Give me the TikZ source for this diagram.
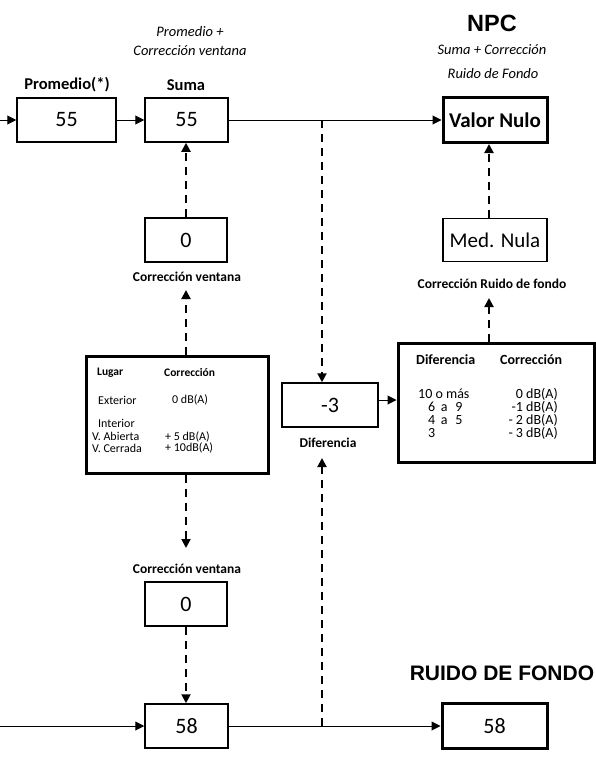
\documentclass[tikz,border=0pt]{standalone}
\usepackage{fontspec}
\setmainfont{Carlito}
\newfontfamily\arialfont{Liberation Sans}
\usetikzlibrary{arrows.meta}
\begin{document}
\begin{tikzpicture}[x=1pt,y=-1pt]
\tikzset{
 bx/.style={draw, line width=1.5pt, inner sep=0pt, font=\fontsize{22}{24}\selectfont},
 tbx/.style={bx, line width=3pt},
 lbl/.style={inner sep=0pt, font=\bfseries\fontsize{16.5}{18}\selectfont},
 slbl/.style={inner sep=0pt, font=\bfseries\fontsize{13.5}{15}\selectfont},
 itl/.style={inner sep=0pt, font=\itshape\fontsize{14.5}{16}\selectfont},
 bigl/.style={inner sep=0pt, font=\arialfont\bfseries\fontsize{23.5}{25}\selectfont},
 bigm/.style={inner sep=0pt, font=\arialfont\bfseries\fontsize{21}{23}\selectfont},
 cell/.style={inner sep=0pt, anchor=west, align=left, font=\fontsize{12}{11.5}\selectfont},
 cellh/.style={inner sep=0pt, anchor=west, font=\bfseries\fontsize{11.5}{12}\selectfont},
 dcell/.style={inner sep=0pt, font=\fontsize{14}{13.2}\selectfont},
 dcellh/.style={inner sep=0pt, anchor=west, font=\bfseries\fontsize{14}{14}\selectfont},
 arr/.style={line width=1pt, -{Triangle[length=9pt,width=9pt]}},
 darr/.style={line width=2pt, dash pattern=on 8pt off 6pt, -{Triangle[length=9pt,width=9pt]}},
}
\useasboundingbox (0,0) rectangle (596,771);

% top row
\node[itl] (t1) at (190,32) {Promedio +};
\node[itl] (t2) at (190,51) {Corrección ventana};
\node[lbl] (lprom) at (67,85) {Promedio(*)};
\node[lbl] (lsuma) at (186,85) {Suma};
\node[bigl] (npc) at (492,23) {NPC};
\node[itl] (t3) at (492,50) {Suma + Corrección};
\node[itl] (t4) at (493,74) {Ruido de Fondo};
\node[bx, minimum width=99pt, minimum height=44pt] (prom) at (66.5,120) {55};
\node[bx, minimum width=83pt, minimum height=44pt] (suma) at (186.5,120) {55};
\node[tbx, minimum width=104pt, minimum height=45pt, font=\bfseries\fontsize{21}{23}\selectfont] (valor) at (495,120) {Valor Nulo};

% middle
\node[bx, minimum width=82pt, minimum height=44pt] (cv1) at (186,240) {0};
\node[slbl] (lcv1) at (187,277) {Corrección ventana};
\node[bx, minimum width=104pt, minimum height=43pt, font=\fontsize{21}{23}\selectfont] (med) at (495,240) {Med. Nula};
\node[slbl] (lcrf) at (492,284) {Corrección Ruido de fondo};

\node[tbx, minimum width=182pt, minimum height=117pt] (lug) at (177,414.5) {};
\node[cellh] (h1) at (97,373) {Lugar};
\node[cellh] (h2) at (164,373) {Corrección};
\node[cell] (r1a) at (98,400) {Exterior};
\node[cell] (r1b) at (172,400) {0 dB(A)};
\node[cell] (r2a) at (98,423) {Interior};
\node[cell] (r3a) at (92,442.5) {V. Abierta\\V. Cerrada};
\node[cell] (r3b) at (165,442.5) {+ 5 dB(A)\\+ 10dB(A)};

\node[bx, minimum width=96pt, minimum height=44pt] (m3) at (330,405) {-3};
\node[slbl] (ldif) at (328,443) {Diferencia};

\node[tbx, minimum width=196pt, minimum height=119pt] (tab) at (496,402.5) {};
\node[dcellh] (d1) at (416,360) {Diferencia};
\node[dcellh] (d2) at (500,360) {Corrección};
\node[dcell, anchor=west, align=left] (ecolA) at (418,413) {\vphantom{Á(}10 o más\\\hspace*{10pt}6 \,a\,\, 9\\\hspace*{10pt}4 \,a\,\, 5\\\hspace*{10pt}3\vphantom{(}};
\node[dcell, anchor=east, align=right] (ecolB) at (558,413) {\vphantom{Á(}0 dB(A)\\-1 dB(A)\\- 2 dB(A)\\- 3 dB(A)\vphantom{(}};

% bottom
\node[slbl] (lcv2) at (187,569) {Corrección ventana};
\node[bx, minimum width=82pt, minimum height=44pt] (cv2) at (186,604) {0};
\node[bx, minimum width=83pt, minimum height=44pt] (b58) at (186.5,726) {58};
\node[tbx, minimum width=105pt, minimum height=45pt] (r58) at (494.5,726) {58};
\node[bigm] (lrf) at (502,673) {RUIDO DE FONDO};

% connectors
\coordinate (in1) at (0,120);
\draw[arr] (in1) -- (prom.west);
\draw[arr] (prom.east) -- (suma.west);
\draw[arr] (suma.east) -- (valor.west);
\coordinate (j1) at (322,120);
\draw[darr] (j1) -- (j1 |- m3.north);
\draw[darr] (cv1.north) -- (cv1.north |- suma.south);
\coordinate (tip1) at (186,290);
\draw[darr] (tip1 |- lug.north) -- (tip1);
\coordinate (tip2) at (186,548);
\draw[darr] (tip2 |- lug.south) -- (tip2);
\draw[darr] (cv2.south) -- (cv2.south |- b58.north);
\coordinate (in2) at (0,726);
\draw[arr] (in2) -- (b58.west);
\draw[arr] (b58.east) -- (r58.west);
\coordinate (j2) at (322,726);
\coordinate (tip3) at (322,458);
\draw[darr] (j2) -- (tip3);
\draw[arr] ([yshift=5pt]m3.east) -- ([yshift=5pt]m3.east -| tab.west);
\coordinate (tip4) at (489,298);
\draw[darr] (tip4 |- tab.north) -- (tip4);
\coordinate (c5) at (489,0);
\draw[darr] (c5 |- med.north) -- (c5 |- valor.south);
\end{tikzpicture}
\end{document}
